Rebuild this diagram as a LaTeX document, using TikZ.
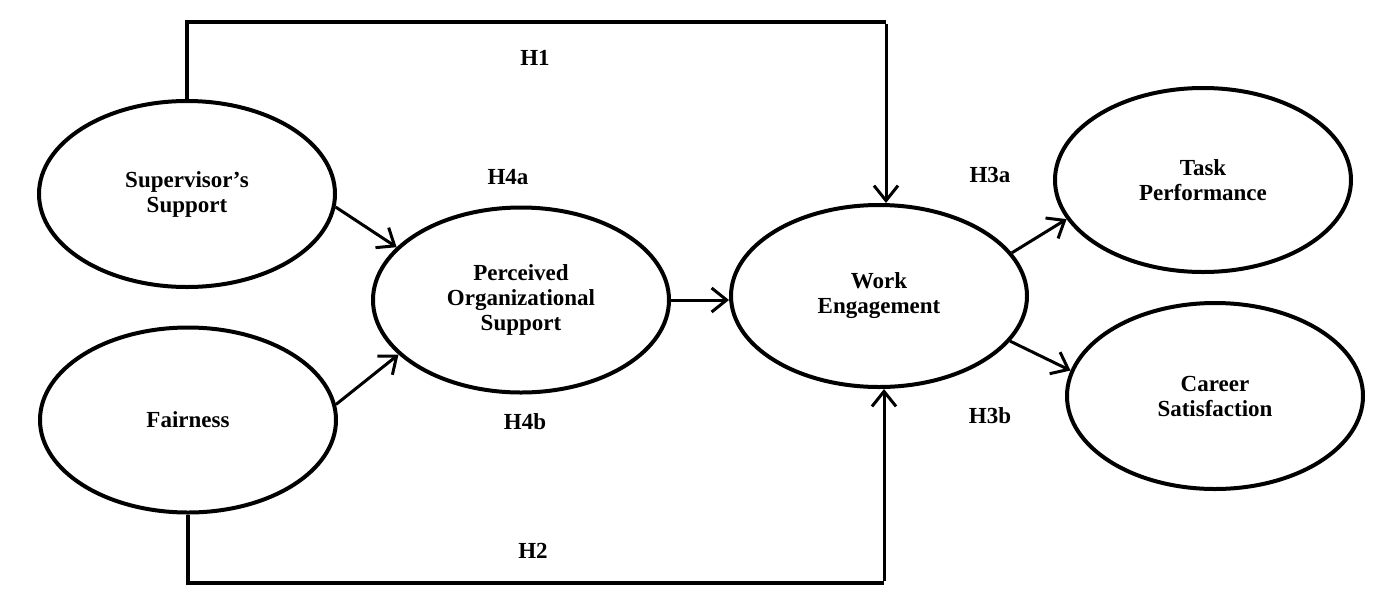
\documentclass[tikz,border=0pt]{standalone}
\usepackage{fontspec}
\setmainfont{Liberation Serif}
\usetikzlibrary{shapes.geometric,arrows.meta}
\begin{document}
\begin{tikzpicture}[x=1pt,y=-1pt,
  construct/.style={draw=black, line width=4pt, ellipse, inner sep=0pt,
     minimum width=296pt, minimum height=186pt, align=center,
     font=\fontsize{23}{25}\selectfont\bfseries},
  hyp/.style={font=\fontsize{23}{25}\selectfont\bfseries, inner sep=0pt},
  arr/.style={line width=3pt, -{Straight Barb[length=15pt,width=24pt,line width=3pt]}},
  frame/.style={line width=4.5pt}
]
\useasboundingbox (0,0) rectangle (1400,598);

\node[construct] (sup)  at (187,194) {Supervisor’s\\Support};
\node[construct, minimum height=185pt] (fair) at (188,420) {Fairness};
\node[construct, minimum height=185pt] (pos) at (521,300) {Perceived\\Organizational\\Support};
\node[construct, minimum height=182pt] (we) at (879,296) {Work\\Engagement};
\node[construct, minimum height=184pt] (tp) at (1203,180) {Task\\Performance};
\node[construct] (cs) at (1215,396) {Career\\Satisfaction};

\node[hyp] (h1)  at (535,58)  {H1};
\node[hyp] (h4a) at (508,177) {H4a};
\node[hyp] (h3a) at (990,175) {H3a};
\node[hyp] (h4b) at (525,422) {H4b};
\node[hyp] (h3b) at (990,416) {H3b};
\node[hyp] (h2)  at (533,551) {H2};

\coordinate (h1r) at (886,22);
\coordinate (h2r) at (884,583);

\draw[frame] (sup.north) |- (h1r);
\draw[arr] ([yshift=-2.25pt]h1r) -- (h1r |- we.north);
\draw[frame] (fair.south) |- (h2r);
\draw[arr] ([yshift=2.25pt]h2r) -- (h2r |- we.south);

\draw[arr] (sup.-5) -- (pos.157);
\draw[arr] (fair.6) -- (pos.204);
\draw[arr] (pos.east) -- (pos.east -| we.west);
\draw[arr] (we.18) -- (tp.196);
\draw[arr] (we.-19) -- (cs.170);
\end{tikzpicture}
\end{document}
